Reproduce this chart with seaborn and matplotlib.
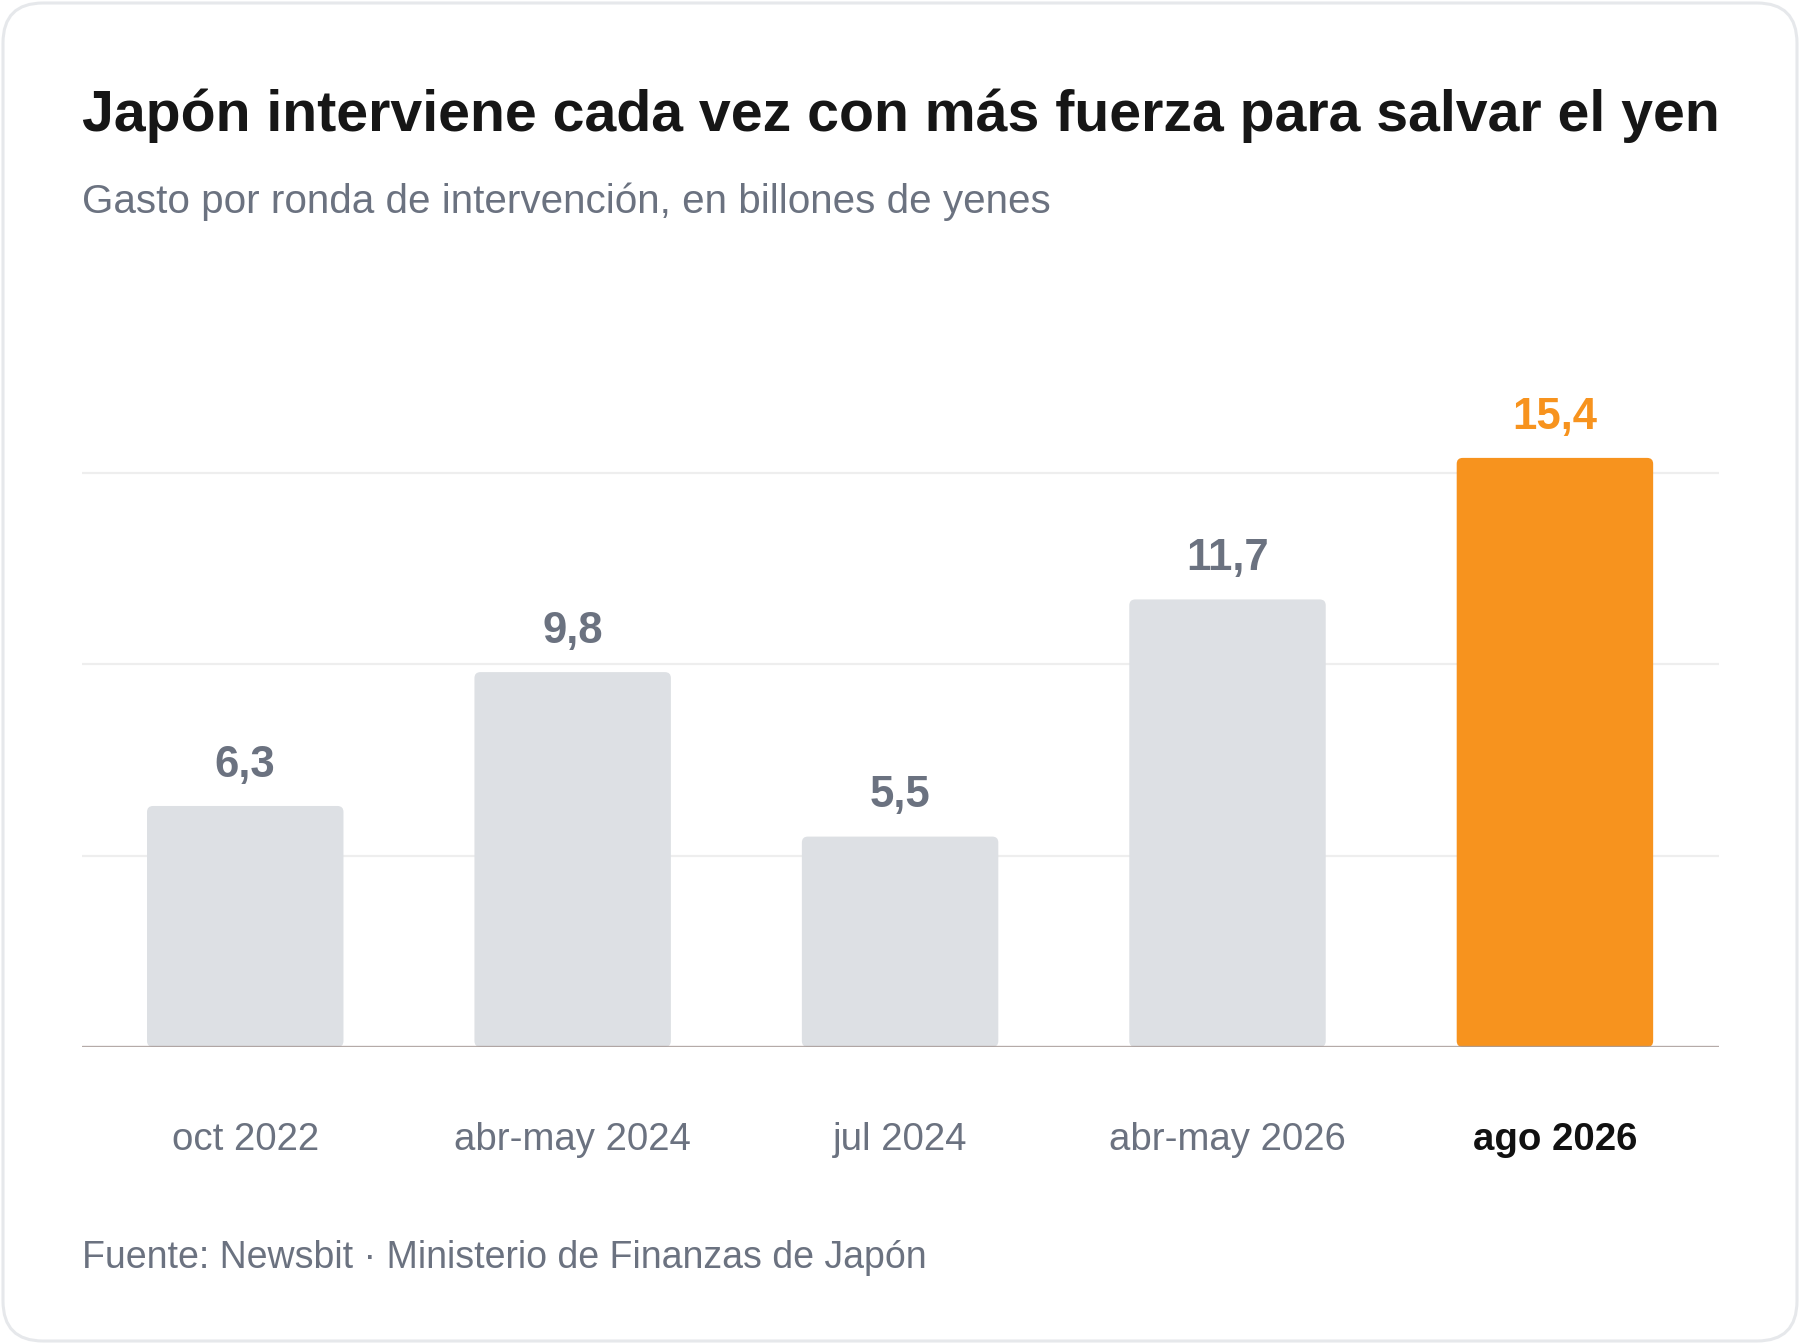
import numpy as np
import pandas as pd
import matplotlib
matplotlib.use("Agg")
import matplotlib.pyplot as plt
from matplotlib.patches import FancyBboxPatch
import seaborn as sns

# datos
rondas = ['oct 2022', 'abr-may 2024', 'jul 2024', 'abr-may 2026', 'ago 2026']
gasto = [6.3, 9.8, 5.5, 11.7, 15.4]
colores = ['#dde0e4', '#dde0e4', '#dde0e4', '#dde0e4', '#f7931e']
color_valor = ['#6b7280', '#6b7280', '#6b7280', '#6b7280', '#f7931e']

titulo = 'Japón interviene cada vez con más fuerza para salvar el yen'
subtitulo = 'Gasto por ronda de intervención, en billones de yenes'
fuente = 'Fuente: Newsbit · Ministerio de Finanzas de Japón'

df = pd.DataFrame({'ronda': rondas, 'gasto': gasto})

sns.set_style('white')
plt.rcParams['font.family'] = ['Liberation Sans', 'DejaVu Sans']

W, H = 1800, 1344
fig = plt.figure(figsize=(W / 100, H / 100), dpi=100)
fig.patch.set_facecolor('white')

# tarjeta con bordes redondeados
card = FancyBboxPatch((3 / W, 3 / H), 1 - 6 / W, 1 - 6 / H,
                      boxstyle='round,pad=0,rounding_size=%f' % (40 / W),
                      mutation_aspect=W / H, transform=fig.transFigure,
                      facecolor='white', edgecolor='#e6e8eb', linewidth=2.2,
                      zorder=-10)
fig.patches.append(card)

ax = fig.add_axes([0.0453, 0.221, 0.9095, 0.5123])
ax.set_facecolor('none')

sns.barplot(data=df, x='ronda', y='gasto', hue='ronda', palette=colores,
            width=0.6, legend=False, ax=ax, saturation=1, zorder=2)

ax.set_xlim(-0.5, 4.5)
ax.set_ylim(0, 18)

# esquinas redondeadas en las barras
px_x = (0.9095 * W) / 5.0
px_y = (0.5123 * H) / 18.0
for p in list(ax.patches):
    x0, y0 = p.get_x(), p.get_y()
    w, h = p.get_width(), p.get_height()
    fc = p.get_facecolor()
    p.remove()
    rb = FancyBboxPatch((x0, y0), w, h,
                        boxstyle='round,pad=0,rounding_size=%f' % (6 / px_x),
                        mutation_aspect=px_x / px_y,
                        facecolor=fc, edgecolor='none', zorder=2)
    ax.add_patch(rb)

ax.set_yticks([5, 10, 15])
ax.yaxis.grid(True, color='#eeeeee', linewidth=1.6, zorder=0)
ax.set_axisbelow(True)
ax.tick_params(axis='y', length=0, labelleft=False)
ax.tick_params(axis='x', length=0, pad=54)
for s in ax.spines.values():
    s.set_visible(False)
ax.axhline(0, color='#a89c99', linewidth=2.4, alpha=0.85, zorder=3)

ax.set_xlabel('')
ax.set_ylabel('')

for lab, i in zip(ax.get_xticklabels(), range(len(rondas))):
    lab.set_fontsize(27.6)
    if i == len(rondas) - 1:
        lab.set_color('#111111')
        lab.set_fontweight('bold')
    else:
        lab.set_color('#6b7280')

for i, v in enumerate(gasto):
    ax.annotate(f'{v:.1f}'.replace('.', ','), (i, v), xytext=(0, 21),
                textcoords='offset points', ha='center', va='baseline',
                fontsize=31.5, fontweight='bold', color=color_valor[i])

fig.text(81.5 / W, 1 - 131 / H, titulo, fontsize=41.2, fontweight='bold',
         color='#161616', ha='left', va='baseline')
fig.text(81.5 / W, 1 - 213 / H, subtitulo, fontsize=29.1, color='#6b7280',
         ha='left', va='baseline')
fig.text(81.5 / W, 1 - 1268 / H, fuente, fontsize=27, color='#6b7280',
         ha='left', va='baseline')

fig.savefig('out.png', dpi=100, facecolor='white')
